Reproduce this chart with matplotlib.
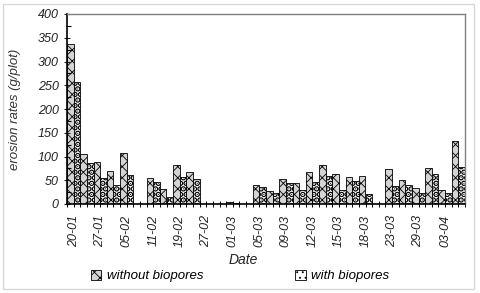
import numpy as np
import matplotlib
matplotlib.use('Agg')
import matplotlib.pyplot as plt
from matplotlib.patches import Rectangle
from matplotlib.ticker import MultipleLocator

plt.rcParams['font.family'] = ['Liberation Sans', 'DejaVu Sans']
plt.rcParams['hatch.linewidth'] = 0.6

# erosion rates (g/plot), one value per sampling event
without_bio = [337, 105, 88, 70, 108, 0, 54, 32, 83, 68, 0, 0, 5, 0, 40,
               28, 52, 45, 68, 83, 64, 57, 60, 0, 74, 50, 33, 76, 29, 133]
with_bio = [256, 87, 54, 41, 62, 0, 46, 15, 57, 53, 0, 0, 3, 0, 35,
            24, 45, 29, 46, 59, 29, 48, 22, 0, 37, 41, 24, 63, 24, 77]
date_labels = ['20-01', '27-01', '05-02', '11-02', '19-02', '27-02', '01-03',
               '05-03', '09-03', '12-03', '15-03', '18-03', '23-03', '29-03', '03-04']

x = np.arange(len(without_bio))
w = 0.5

fig = plt.figure(figsize=(4.8, 2.93), dpi=100)
ax = fig.add_axes([67/480, 1-204/293, (465-67)/480, (204-14)/293])

b1 = ax.bar(x - w/2, without_bio, width=w, facecolor='#d4d4d4', edgecolor='black',
            hatch='xxx', linewidth=0.6, label='without biopores')
b2 = ax.bar(x + w/2, with_bio, width=w, facecolor='white', edgecolor='black',
            hatch='...', linewidth=0.6, label='with biopores')
for p in b2.patches:
    try:
        p.set_hatch_linewidth(3.0)
    except AttributeError:
        pass

ax.set_xlim(-0.5, len(x) - 0.5)
ax.set_ylim(0, 400)
ax.yaxis.set_major_locator(MultipleLocator(50))
ax.yaxis.set_minor_locator(MultipleLocator(25))
ax.tick_params(axis='y', which='major', direction='inout', length=5, width=0.8,
               labelsize=9, colors='#222222')
ax.tick_params(axis='y', which='minor', direction='in', length=3, width=0.8)

ax.set_xticks(x[::2])
ax.set_xticklabels(date_labels, rotation=90, fontsize=9, style='italic', color='#222222')
ax.set_xticks(np.arange(-0.5, len(x), 0.5), minor=True)
ax.tick_params(axis='x', which='both', direction='inout', length=4, width=0.7, pad=6)
for lab in ax.get_yticklabels():
    lab.set_style('italic')

for s in ['top', 'right']:
    ax.spines[s].set_color('#808080')
    ax.spines[s].set_linewidth(1.0)
for s in ['left', 'bottom']:
    ax.spines[s].set_color('black')
    ax.spines[s].set_linewidth(1.2)

ax.set_ylabel('erosion rates (g/plot)', fontsize=9.5, style='italic', color='#333333')
ax.yaxis.set_label_coords(-0.115, 0.5)
fig.text(243/480, 1-260/293, 'Date', ha='center', va='center', fontsize=10,
         style='italic', color='#222222')

leg = fig.legend(handles=[b1, b2], loc='center', bbox_to_anchor=(0.5, 1-276/293),
                 ncol=2, frameon=False, handlelength=0.8, handleheight=0.8,
                 handletextpad=0.4, columnspacing=7.0,
                 prop={'size': 9.5, 'style': 'italic'})

fig.patches.append(Rectangle((3/480, 4/293), 471/480, 285/293, transform=fig.transFigure,
                             fill=False, edgecolor='#d8d8d8', linewidth=1.0))

fig.savefig('out.png', dpi=100)
